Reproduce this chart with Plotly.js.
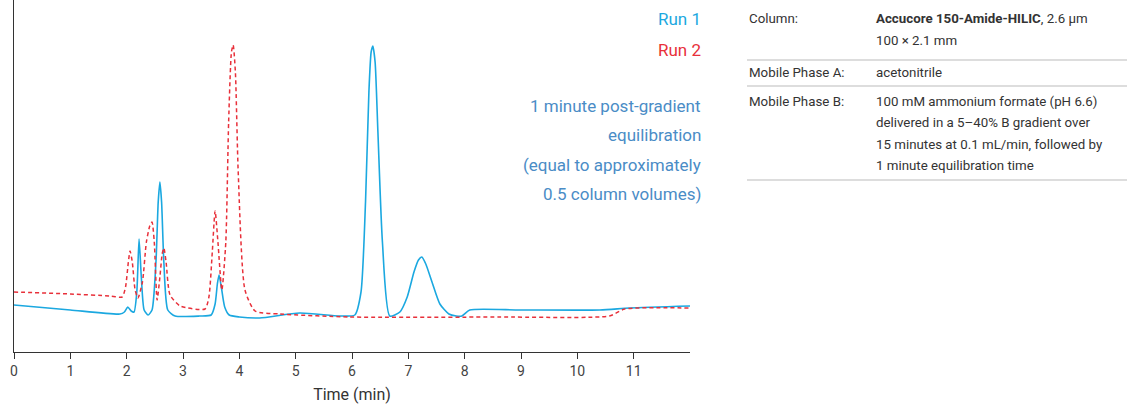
<!DOCTYPE html>
<html><head><meta charset="utf-8">
<script src="https://cdn.plot.ly/plotly-3.0.1.min.js"></script>
<style>body{margin:0}#c{width:1139px;height:404px}</style></head>
<body><div id="c"></div>
<script>
const run1Time = [0,1.0,1.88,1.96,2.02,2.08,2.13,2.18,2.22,2.26,2.31,2.38,2.45,2.52,2.56,2.59,2.62,2.66,2.73,2.86,3.3,3.5,3.57,3.61,3.64,3.68,3.74,3.82,4.0,4.36,5.07,5.78,6.05,6.16,6.24,6.30,6.34,6.37,6.41,6.46,6.54,6.67,6.85,6.98,7.1,7.18,7.24,7.31,7.42,7.56,7.72,7.85,7.95,8.09,8.98,10.4,10.93,12.0];
const run1Sig  = [47,42,38,40,45,41,40,60,113,75,42,37,42,90,150,170,150,90,42,36,36,37,48,68,77,65,45,37,35,34,39,36,37,60,150,260,300,306,290,220,110,36,40,55,80,92,95,88,70,48,38,36,36,42,42,42,44,46];
const run2Time = [0,1.0,1.70,1.92,1.98,2.03,2.06,2.10,2.15,2.2,2.28,2.35,2.41,2.45,2.49,2.54,2.59,2.63,2.66,2.70,2.77,2.95,3.39,3.46,3.52,3.57,3.62,3.69,3.76,3.81,3.86,3.89,3.93,3.98,4.1,4.28,4.72,5.96,8.62,10.57,10.84,12.0];
const run2Sig  = [60,58,56,55,65,90,101,90,62,54,70,110,126,130,110,52,75,98,104,90,57,46,43,55,100,141,110,62,110,230,300,307,280,180,62,41,38,35,35,36,43,44];
const xTicks = [0,1,2,3,4,5,6,7,8,9,10,11];

const blue='#1ba8e0', red='#e8303a', note='#4a8cc6';
const traces=[
 {x:run1Time,y:run1Sig,mode:'lines',line:{color:blue,width:1.6,shape:'spline',smoothing:0.6},hoverinfo:'skip'},
 {x:run2Time,y:run2Sig,mode:'lines',line:{color:red,width:1.5,dash:'4px,3px',shape:'spline',smoothing:0.6},hoverinfo:'skip'}
];
const px=p=>(p-14)/676, py=p=>(352-p)/352;
const ann=[];
function txt(t,x,y,col,sz,al){ann.push({text:t,xref:'paper',yref:'paper',x:px(x),y:py(y),xanchor:al||'left',yanchor:'middle',showarrow:false,font:{size:sz,color:col,family:'Roboto, Arial'},align:al||'left'});}
txt('Run 1',703,19,blue,17,'right');
txt('Run 2',703,50,red,17,'right');
['1 minute post-gradient','equilibration','(equal to approximately','0.5 column volumes)'].forEach((s,i)=>txt(s,703,106+i*29.5,note,17,'right'));
const tc='#333';
txt('Column:',747,18,tc,13.3);
txt('<b>Accucore 150-Amide-HILIC</b>, 2.6 µm',874,18,tc,13.3);
txt('100 × 2.1 mm',874,41,tc,13.3);
txt('Mobile Phase A:',747,72,tc,13.3);
txt('acetonitrile',874,72,tc,13.3);
txt('Mobile Phase B:',747,101,tc,13.3);
['100 mM ammonium formate (pH 6.6)','delivered in a 5–40% B gradient over','15 minutes at 0.1 mL/min, followed by','1 minute equilibration time'].forEach((s,i)=>txt(s,874,101+i*21.5,tc,13.3));
const shapes=[60,86,180].map(y=>({type:'line',xref:'paper',yref:'paper',x0:px(747),x1:px(1127),y0:py(y),y1:py(y),line:{color:'#bbb',width:1.2}}));
Plotly.newPlot('c',traces,{
 width:1139,height:404,margin:{l:14,r:449,t:0,b:52},showlegend:false,
 paper_bgcolor:'#fff',plot_bgcolor:'#fff',
 xaxis:{range:[0,12],tickvals:xTicks,ticks:'outside',ticklen:6,tickcolor:'#333',showline:true,linecolor:'#333',showgrid:false,zeroline:false,
   tickfont:{size:14,color:'#444',family:'Roboto, Arial'},title:{text:'Time (min)',font:{size:16,color:'#333',family:'Roboto, Arial'},standoff:12}},
 yaxis:{range:[0,352],showticklabels:false,ticks:'',showline:true,linecolor:'#333',linewidth:1.5,showgrid:false,zeroline:false},
 annotations:ann,shapes:shapes
},{staticPlot:true});
</script></body></html>
